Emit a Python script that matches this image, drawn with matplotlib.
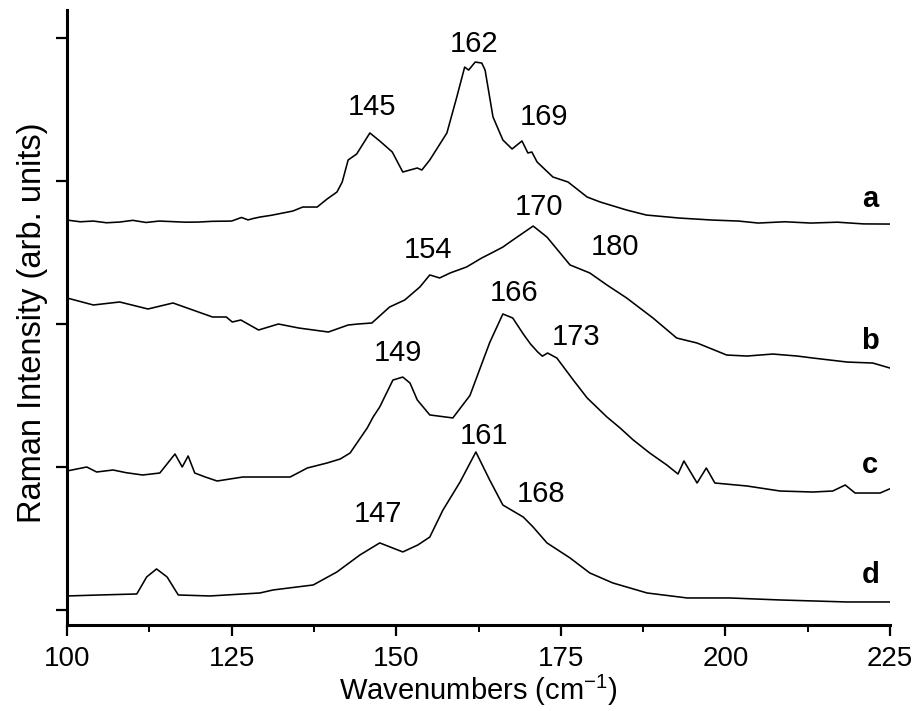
import matplotlib
matplotlib.use("Agg")
import matplotlib.pyplot as plt
from matplotlib.ticker import MultipleLocator

plt.rcParams['font.family'] = ['Liberation Sans', 'DejaVu Sans']
plt.rcParams['mathtext.default'] = 'regular'

# spectra (wavenumber, intensity in offset units)
wn_a = [100, 102, 104, 106, 108, 110, 112, 114, 116, 118, 120, 122, 125, 126.5, 127.5, 128.3,
        129.3, 131, 134.3, 135.8, 138, 139.5, 141, 141.8, 142.7, 144, 146, 147.5, 149.4, 151,
        153.2, 153.9, 155.1, 157.7, 159.2, 160.4, 161, 162, 163, 163.5, 164.7, 166.2, 167.6,
        169.1, 170, 170.6, 171.4, 173.8, 176.1, 179, 181, 185, 188, 193, 198, 202, 205, 209,
        213, 217, 221, 225]
int_a = [2.727, 2.715, 2.720, 2.708, 2.713, 2.725, 2.710, 2.720, 2.716, 2.712, 2.713, 2.718, 2.720,
         2.745, 2.728, 2.738, 2.748, 2.760, 2.790, 2.818, 2.818, 2.874, 2.923, 2.993, 3.147, 3.189,
         3.336, 3.280, 3.203, 3.063, 3.091, 3.077, 3.147, 3.336, 3.587, 3.797, 3.776, 3.832, 3.825,
         3.776, 3.448, 3.287, 3.224, 3.280, 3.196, 3.203, 3.133, 3.028, 2.993, 2.888, 2.853, 2.797,
         2.762, 2.741, 2.727, 2.720, 2.706, 2.715, 2.706, 2.712, 2.700, 2.699]

wn_b = [100, 104, 108, 112.3, 116.1, 119.1, 122.1, 124.2, 125.1, 126.4, 129.1, 132.1, 135.2, 139.7,
        142.7, 144.2, 146.3, 149, 151.3, 153.6, 155.1, 156.6, 158.2, 160.7, 163, 164.2, 166.2,
        167.7, 170.8, 172.9, 176.4, 179.4, 182, 185, 189, 192.6, 195.7, 200.2, 203.3, 207.2,
        210.9, 213.3, 218.5, 222.4, 225]
int_b = [2.182, 2.133, 2.154, 2.105, 2.147, 2.098, 2.049, 2.049, 2.014, 2.028, 1.958, 2.000, 1.972,
         1.944, 1.993, 2.000, 2.007, 2.119, 2.168, 2.259, 2.343, 2.322, 2.357, 2.399, 2.462, 2.490,
         2.538, 2.587, 2.685, 2.608, 2.413, 2.357, 2.273, 2.182, 2.042, 1.902, 1.867, 1.783, 1.776,
         1.790, 1.776, 1.762, 1.734, 1.727, 1.692]

wn_c = [100, 103, 104.5, 107, 109, 111.5, 114.1, 116.4, 117.5, 118.4, 119.4, 121, 122.8, 126.7,
        130.4, 133.9, 136.5, 139.5, 141.5, 143, 145.6, 146.5, 147.5, 149.5, 151, 152.1, 153.2,
        155.1, 158.6, 161.2, 164.2, 166.2, 167.7, 169.3, 170.4, 171.5, 172.2, 173, 174.4, 176.9,
        179, 182, 184, 186, 188.5, 191.1, 192.8, 193.7, 195.7, 197.1, 198.4, 203.3, 208.3, 213.3,
        216.3, 218.2, 219.7, 223.5, 224.9]
int_c = [0.972, 1.000, 0.965, 0.979, 0.960, 0.944, 0.958, 1.091, 1.000, 1.077, 0.958, 0.930, 0.902,
         0.930, 0.930, 0.930, 0.993, 1.028, 1.056, 1.098, 1.273, 1.350, 1.420, 1.608, 1.629, 1.587,
         1.469, 1.364, 1.343, 1.500, 1.870, 2.070, 2.042, 1.930, 1.860, 1.804, 1.775, 1.797, 1.762,
         1.608, 1.483, 1.350, 1.273, 1.189, 1.098, 1.014, 0.951, 1.042, 0.888, 0.993, 0.888, 0.867,
         0.832, 0.825, 0.832, 0.874, 0.818, 0.818, 0.846]

wn_d = [100, 105, 110.6, 112.1, 113.6, 115.2, 116.9, 121.7, 129.3, 131.3, 137.4, 141, 144.5,
        147.5, 151, 153.3, 155.1, 157.1, 159.7, 162.1, 164.2, 166.2, 169.3, 170.8, 172.9, 176.4,
        179.4, 182.9, 188.1, 194.2, 200.7, 208.3, 218.5, 225]
int_d = [0.098, 0.105, 0.112, 0.231, 0.287, 0.231, 0.105, 0.098, 0.119, 0.140, 0.175, 0.266, 0.385,
         0.469, 0.406, 0.455, 0.510, 0.699, 0.895, 1.105, 0.909, 0.734, 0.650, 0.580, 0.469, 0.364,
         0.259, 0.189, 0.119, 0.084, 0.084, 0.070, 0.056, 0.056]

# peak labels: text, wavenumber, height
peaks = [("145", 146.3, 3.52), ("162", 161.8, 3.96), ("169", 172.4, 3.45),
         ("154", 154.8, 2.52), ("170", 171.7, 2.82), ("180", 183.2, 2.54),
         ("149", 150.3, 1.80), ("166", 167.9, 2.22), ("173", 177.3, 1.91),
         ("147", 147.2, 0.67), ("161", 163.3, 1.22), ("168", 172.0, 0.81)]
names = ["a", "b", "c", "d"]
name_y = [2.818, 1.825, 0.958, 0.189]

fig = plt.figure(figsize=(9.21, 7.11), dpi=100)
ax = fig.add_axes([67/921, 1 - 625/711, 823/921, 615/711])

for wn, it in [(wn_a, int_a), (wn_b, int_b), (wn_c, int_c), (wn_d, int_d)]:
    ax.plot(wn, it, color='black', lw=1.15)

for txt, x, y in peaks:
    ax.text(x, y, txt, ha='center', va='center', fontsize=21)
for n, y in zip(names, name_y):
    ax.text(222.0, y, n, ha='center', va='baseline', fontsize=21, fontweight='bold')

ax.set_xlim(100, 225)
ax.set_ylim(-0.105, 4.196)
ax.xaxis.set_major_locator(MultipleLocator(25))
ax.xaxis.set_minor_locator(MultipleLocator(12.5))
ax.set_yticks([0, 1, 2, 3, 4])
ax.set_yticklabels([])
ax.spines['top'].set_visible(False)
ax.spines['right'].set_visible(False)
ax.spines['left'].set_linewidth(2.2)
ax.spines['bottom'].set_linewidth(2.2)
ax.tick_params(axis='both', which='major', direction='out', length=8, width=1.6, labelsize=20, pad=7)
ax.tick_params(axis='x', which='minor', direction='out', length=5, width=1.4)

fig.text(33/921, 1 - 323/711, "Raman Intensity (arb. units)", rotation=90,
         ha='center', va='center', fontsize=23.5)
fig.text(478/921, 1 - 690/711, r"Wavenumbers (cm$^{-1}$)", ha='center', va='center', fontsize=21)

fig.savefig("out.png", dpi=100)
